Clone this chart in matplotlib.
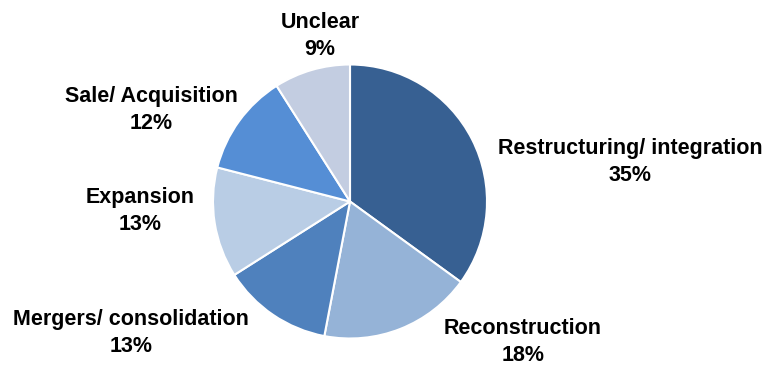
import matplotlib.pyplot as plt

categories = ["Restructuring/ integration", "Reconstruction", "Mergers/ consolidation",
              "Expansion", "Sale/ Acquisition", "Unclear"]
shares = [35, 18, 13, 13, 12, 9]
colors = ["#376092", "#95B3D7", "#4F81BD", "#B9CDE5", "#558ED5", "#C3CDE1"]

# label centres in pixel space (x from left, y from top)
label_pos = [(630, 162), (523, 342), (131, 333), (140, 211), (151, 110), (320, 36)]

plt.rcParams['font.family'] = ['Liberation Sans', 'DejaVu Sans']

W, H = 766, 367
fig = plt.figure(figsize=(W / 100, H / 100), dpi=100)
ax = fig.add_axes([0, 0, 1, 1])

ax.pie(shares, colors=colors, startangle=90, counterclock=False,
       center=(350, H - 201.5), radius=137, frame=True,
       wedgeprops=dict(edgecolor="white", linewidth=1.5))
ax.set_xlim(0, W)
ax.set_ylim(0, H)
ax.axis("off")

for name, val, (x, y) in zip(categories, shares, label_pos):
    ax.text(x, H - y, f"{name}\n{val}%", ha="center", va="center",
            fontsize=15.5, fontweight="bold", linespacing=1.35)

fig.savefig("out.png", dpi=100)
